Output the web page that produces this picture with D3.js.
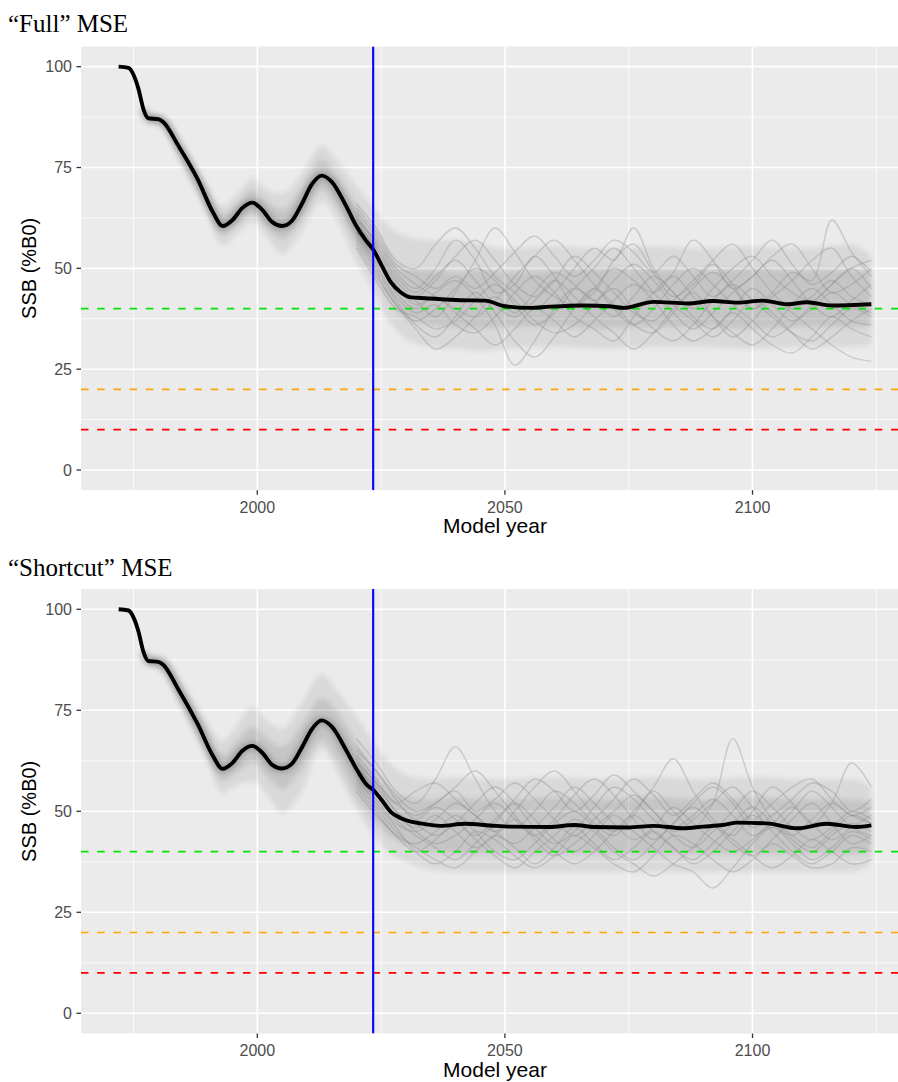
<!DOCTYPE html>
<html>
<head>
<meta charset="utf-8">
<script src="https://cdn.jsdelivr.net/npm/d3@7"></script>
<style>
  body { margin: 0; background: #fff; }
  svg { display: block; }
</style>
</head>
<body>
<svg id="chart"></svg>
<script>
// ---- data ----
var xTicks = [2000, 2050, 2100]
var xMinor = [1975, 2025, 2075, 2125]
var yTicks = [0, 25, 50, 75, 100]
var yMinor = [12.5, 37.5, 62.5, 87.5]
var refValues = [40, 20, 10]
var currentYear = 2023.4

// median (black) lines
var fullMedYears = [1972, 1974, 1975, 1976, 1977, 1978, 1980, 1981, 1984, 1988, 1991, 1993, 1995, 1997, 1999, 2001, 2003, 2005, 2007, 2009, 2011, 2013, 2015, 2018, 2020, 2022, 2023.5, 2025, 2027, 2029, 2031, 2034, 2041, 2046, 2050, 2055, 2059, 2066, 2071, 2074, 2080, 2087, 2092, 2097, 2102, 2107, 2111, 2116, 2124]
var fullMedValues = [100, 99.7, 98, 94.5, 89.5, 87.2, 87, 86.3, 80.5, 72, 64, 60.5, 62, 65, 66.3, 64.5, 61.5, 60.5, 61.8, 66, 70.8, 73, 71.5, 65.3, 60.5, 56.8, 54.5, 51, 46.5, 44, 42.8, 42.6, 42.1, 42, 40.6, 40.2, 40.5, 40.8, 40.6, 40.2, 41.7, 41.3, 41.9, 41.5, 42, 41.1, 41.6, 40.8, 41.1]

var shortMedYears = [1972, 1974, 1975, 1976, 1977, 1978, 1980, 1981, 1984, 1988, 1991, 1993, 1995, 1997, 1999, 2001, 2003, 2005, 2007, 2009, 2011, 2013, 2015, 2018, 2020, 2022, 2023.5, 2025, 2027, 2029, 2033, 2037, 2042, 2047, 2051, 2059, 2064, 2068, 2075, 2080, 2086, 2090, 2094, 2097, 2103, 2109, 2115, 2121, 2124]
var shortMedValues = [100, 99.7, 98, 94.5, 89.5, 87.2, 87, 86.3, 80.3, 71.5, 63.8, 60.5, 62, 65, 66.2, 64.5, 61.5, 60.6, 61.8, 65.8, 70.3, 72.5, 71, 65, 60.5, 56.7, 55.2, 53, 49.8, 48.3, 47, 46.4, 46.9, 46.5, 46.2, 46.1, 46.6, 46.1, 46, 46.4, 45.8, 46.2, 46.6, 47.2, 47, 45.8, 46.9, 46.1, 46.5]

// spread of the simulation runs (outer and dense inner envelopes)
var bandYears = [1978, 1981, 1985, 1989, 1993, 1996, 1999, 2002, 2005, 2009, 2013, 2016, 2020, 2023, 2026, 2030, 2035, 2040, 2045, 2050, 2060, 2070, 2080, 2090, 2100, 2110, 2120, 2124]

var fullOuterHi = [88.5, 87.8, 80.3, 72, 65.5, 68.5, 72.3, 69.5, 68.6, 73.5, 80.5, 77, 70.5, 66, 61, 58, 57, 57, 56, 55, 55.5, 55, 55.5, 55, 55.5, 55, 56, 53]
var fullInnerHi = [88, 87.2, 79.4, 70.9, 63.2, 66, 69.5, 66.5, 64.5, 70, 77, 73.2, 65.5, 60, 54, 50, 49.5, 49, 49.5, 49, 49.5, 50, 49.5, 49.5, 50, 49.5, 49.5, 49]
var fullInnerLo = [86.4, 85.4, 76.5, 67.8, 58.2, 61, 63.5, 60, 57.2, 62.5, 69.5, 65.5, 56, 50.5, 43, 37.5, 36, 35.5, 35, 35.5, 35.5, 35, 35.5, 35.5, 35, 35.5, 35.5, 36]
var fullOuterLo = [85.8, 84.8, 75, 66, 55.5, 58.5, 61.5, 57.5, 53.5, 59, 66.5, 62, 51.5, 45.5, 38, 32.5, 30.5, 30, 29.5, 30, 30.5, 30, 30.5, 30.5, 30, 30.5, 30.5, 31]

var shortOuterHi = [88.8, 88.3, 81.5, 74, 67.5, 71.5, 76, 72.5, 70.5, 77, 84, 80, 73.5, 68, 63, 59, 58, 58.5, 58, 58, 58.5, 58, 58.5, 58, 58.5, 58, 58, 56]
var shortInnerHi = [88.2, 87.5, 79.6, 71.4, 64, 67.5, 71, 68, 66, 71.5, 78, 75, 67, 61.5, 56.5, 53.5, 53, 53.5, 53, 53, 53.5, 53, 53.5, 53, 53.5, 53, 53, 52.5]
var shortInnerLo = [86.3, 85.2, 76.3, 67.2, 57.5, 59.8, 62, 58.5, 55.5, 60.5, 67.5, 63, 53.5, 48.5, 44.5, 41.5, 40, 39.5, 39.5, 39.5, 39.5, 39.5, 39.5, 39.5, 39.5, 39.5, 39.5, 40]
var shortOuterLo = [85.8, 84.5, 74.5, 65, 54.5, 56.5, 57.5, 54, 49.5, 55, 65.5, 60, 50.5, 45, 40.5, 37.5, 35.5, 35, 35, 35, 35, 35, 35, 35, 35, 35, 35, 37]

// individual projection runs that stand out of the cloud
var traceYears = [2020, 2024, 2028, 2032, 2036, 2040, 2044, 2048, 2052, 2056, 2060, 2064, 2068, 2072, 2076, 2080, 2084, 2088, 2092, 2096, 2100, 2104, 2108, 2112, 2116, 2120, 2124]

var fullTraces = [
  [62, 57, 49, 45, 50, 57, 52, 44, 46, 53, 48, 41, 44, 52, 56, 49, 43, 46, 51, 46, 40, 44, 49, 47, 62, 54, 48],
  [58, 50, 42, 36, 33, 38, 44, 39, 32, 28, 33, 40, 45, 41, 36, 34, 39, 44, 38, 33, 37, 42, 39, 35, 31, 28, 27],
  [60, 53, 44, 40, 44, 47, 43, 36, 26, 32, 40, 45, 42, 38, 43, 48, 44, 38, 35, 40, 45, 41, 37, 40, 44, 41, 39],
  [66, 60, 52, 50, 56, 60, 55, 48, 44, 40, 44, 50, 55, 52, 60, 50, 44, 40, 45, 50, 53, 48, 44, 42, 46, 50, 45],
  [55, 47, 40, 38, 35, 37, 42, 46, 42, 37, 34, 36, 41, 45, 40, 35, 32, 36, 42, 46, 42, 38, 34, 32, 36, 40, 38],
  [61, 55, 47, 42, 38, 44, 52, 60, 54, 47, 43, 41, 45, 50, 47, 44, 49, 57, 52, 45, 48, 53, 56, 50, 44, 46, 50],
  [63, 56, 48, 44, 48, 52, 47, 41, 38, 42, 47, 53, 49, 44, 39, 37, 42, 47, 52, 56, 50, 44, 40, 43, 47, 43, 41],
  [59, 51, 43, 39, 41, 36, 34, 38, 44, 48, 44, 38, 35, 32, 38, 44, 48, 43, 38, 34, 31, 35, 41, 45, 41, 37, 36],
  [57, 49, 41, 37, 40, 45, 50, 47, 41, 36, 39, 45, 50, 55, 50, 44, 39, 35, 39, 44, 48, 52, 47, 41, 38, 42, 46],
  [64, 58, 50, 46, 43, 40, 38, 42, 48, 53, 57, 52, 46, 40, 36, 40, 46, 50, 46, 41, 37, 33, 36, 41, 46, 50, 52],
  [60, 52, 45, 43, 47, 53, 57, 52, 46, 43, 47, 43, 38, 34, 30, 34, 40, 45, 49, 45, 40, 43, 47, 52, 55, 48, 43],
  [56, 48, 41, 35, 30, 33, 38, 43, 39, 44, 49, 46, 42, 47, 51, 47, 41, 37, 33, 37, 42, 39, 34, 30, 33, 37, 40],
  [65, 59, 51, 48, 45, 48, 45, 49, 54, 58, 53, 48, 52, 57, 54, 49, 53, 48, 43, 47, 52, 57, 51, 46, 49, 53, 49],
  [59, 54, 46, 41, 43, 39, 35, 31, 35, 40, 37, 33, 37, 42, 46, 42, 36, 32, 35, 39, 35, 31, 29, 33, 38, 35, 33]
]

var shortTraces = [
  [68, 62, 55, 52, 58, 66, 58, 50, 46, 50, 55, 52, 47, 44, 49, 55, 50, 46, 52, 68, 56, 48, 44, 48, 52, 49, 47],
  [60, 54, 48, 44, 41, 38, 42, 47, 52, 48, 43, 40, 44, 49, 45, 41, 37, 35, 31, 36, 42, 46, 42, 38, 41, 45, 43],
  [64, 58, 52, 55, 57, 53, 49, 45, 50, 56, 60, 55, 49, 45, 50, 56, 63, 55, 48, 44, 50, 56, 52, 47, 52, 62, 56],
  [56, 50, 44, 42, 45, 49, 45, 40, 38, 42, 47, 50, 46, 41, 38, 42, 47, 51, 47, 42, 39, 43, 48, 52, 47, 42, 44],
  [62, 57, 50, 47, 44, 47, 52, 56, 52, 46, 42, 45, 51, 56, 53, 48, 44, 41, 45, 50, 55, 51, 46, 43, 46, 50, 48],
  [58, 52, 46, 40, 37, 40, 45, 43, 39, 36, 39, 44, 41, 37, 35, 39, 44, 42, 38, 35, 38, 42, 39, 36, 37, 41, 40],
  [66, 60, 54, 50, 52, 55, 50, 53, 57, 53, 48, 44, 48, 53, 58, 54, 49, 53, 57, 53, 48, 52, 56, 58, 53, 49, 51],
  [61, 55, 49, 46, 49, 45, 41, 44, 48, 44, 40, 37, 40, 45, 49, 45, 41, 38, 42, 47, 51, 47, 43, 40, 44, 47, 45],
  [63, 57, 52, 49, 52, 56, 60, 55, 49, 44, 48, 54, 58, 54, 48, 43, 47, 52, 56, 52, 46, 49, 53, 57, 55, 50, 53],
  [57, 51, 45, 41, 38, 36, 40, 44, 41, 37, 41, 46, 42, 38, 41, 45, 41, 37, 40, 45, 49, 45, 40, 37, 40, 44, 42],
  [65, 60, 53, 48, 51, 48, 44, 48, 53, 58, 55, 50, 54, 59, 55, 50, 46, 49, 53, 49, 44, 47, 51, 47, 43, 46, 49],
  [59, 53, 47, 45, 48, 52, 49, 45, 42, 46, 51, 56, 52, 47, 43, 46, 51, 47, 43, 40, 43, 47, 44, 41, 45, 49, 47],
  [61, 56, 50, 45, 42, 44, 48, 52, 48, 43, 39, 42, 46, 50, 54, 50, 45, 48, 52, 56, 51, 46, 50, 55, 51, 46, 44],
  [55, 49, 44, 40, 43, 47, 43, 39, 36, 40, 44, 48, 45, 40, 37, 34, 37, 41, 46, 43, 39, 36, 39, 43, 40, 37, 38]
]

var panels = [
  { title: "\u201cFull\u201d MSE", titleY: 31.5, top: 46.5, bottom: 490.2,
    medYears: fullMedYears, medValues: fullMedValues, traces: fullTraces,
    outerHi: fullOuterHi, innerHi: fullInnerHi, innerLo: fullInnerLo, outerLo: fullOuterLo },
  { title: "\u201cShortcut\u201d MSE", titleY: 575.5, top: 589.1, bottom: 1033.5,
    medYears: shortMedYears, medValues: shortMedValues, traces: shortTraces,
    outerHi: shortOuterHi, innerHi: shortInnerHi, innerLo: shortInnerLo, outerLo: shortOuterLo }
]

// ---- styles ----
var refColors = ["#00e600", "#ffa500", "#ff0000"]
var width = 898, height = 1082
var panelLeft = 81, panelRight = 909

let svg = d3.select("#chart")
  .attr("width", width)
  .attr("height", height)
  .style("font-family", "'Liberation Sans', Arial, sans-serif")

svg.append("rect").attr("width", width).attr("height", height).attr("fill", "#fff")

let defs = svg.append("defs")
defs.append("filter")
  .attr("id", "soft")
  .attr("x", "-5%").attr("y", "-30%").attr("width", "110%").attr("height", "160%")
  .append("feGaussianBlur")
  .attr("stdDeviation", 2.4)

var x = d3.scaleLinear()
  .domain([1964.4, 2131.6])
  .range([panelLeft, panelRight])

panels.forEach(function(p, i) {
  var y = d3.scaleLinear()
    .domain([-5, 105])
    .range([p.bottom, p.top])

  defs.append("clipPath")
    .attr("id", "clip" + i)
    .append("rect")
    .attr("x", panelLeft).attr("y", p.top)
    .attr("width", panelRight - panelLeft).attr("height", p.bottom - p.top)

  // title
  svg.append("text")
    .attr("x", 8)
    .attr("y", p.titleY)
    .style("font-family", "'Liberation Serif', 'Times New Roman', serif")
    .style("font-size", "25px")
    .attr("fill", "#000")
    .text(p.title)

  // background + grid
  svg.append("rect")
    .attr("x", panelLeft).attr("y", p.top)
    .attr("width", panelRight - panelLeft).attr("height", p.bottom - p.top)
    .attr("fill", "#ebebeb")

  let grid = svg.append("g").attr("clip-path", "url(#clip" + i + ")")
  grid.selectAll(".ymin").data(yMinor).join("line")
    .attr("x1", panelLeft).attr("x2", panelRight)
    .attr("y1", d => y(d)).attr("y2", d => y(d))
    .attr("stroke", "#fff").attr("stroke-width", 0.8)
  grid.selectAll(".xmin").data(xMinor).join("line")
    .attr("y1", p.top).attr("y2", p.bottom)
    .attr("x1", d => x(d)).attr("x2", d => x(d))
    .attr("stroke", "#fff").attr("stroke-width", 0.8)
  grid.selectAll(".ymaj").data(yTicks).join("line")
    .attr("x1", panelLeft).attr("x2", panelRight)
    .attr("y1", d => y(d)).attr("y2", d => y(d))
    .attr("stroke", "#fff").attr("stroke-width", 1.6)
  grid.selectAll(".xmaj").data(xTicks).join("line")
    .attr("y1", p.top).attr("y2", p.bottom)
    .attr("x1", d => x(d)).attr("x2", d => x(d))
    .attr("stroke", "#fff").attr("stroke-width", 1.6)

  let plot = svg.append("g").attr("clip-path", "url(#clip" + i + ")")

  // cloud of runs
  var bandRows = bandYears.map((yr, k) => ({ yr: yr, oh: p.outerHi[k], ih: p.innerHi[k], il: p.innerLo[k], ol: p.outerLo[k] }))
  var outerArea = d3.area().curve(d3.curveMonotoneX)
    .x(d => x(d.yr)).y0(d => y(d.ol)).y1(d => y(d.oh))
  var innerArea = d3.area().curve(d3.curveMonotoneX)
    .x(d => x(d.yr)).y0(d => y(d.il)).y1(d => y(d.ih))

  plot.append("path").datum(bandRows)
    .attr("d", outerArea)
    .attr("fill", "#000").attr("fill-opacity", 0.075)
    .attr("filter", "url(#soft)")
  plot.append("path").datum(bandRows)
    .attr("d", innerArea)
    .attr("fill", "#000").attr("fill-opacity", 0.09)
    .attr("filter", "url(#soft)")

  var traceLine = d3.line().curve(d3.curveCatmullRom.alpha(0.5))
    .x(d => x(d[0])).y(d => y(d[1]))
  plot.selectAll(".trace").data(p.traces).join("path")
    .attr("d", t => traceLine(traceYears.map((yr, k) => [yr, t[k]])))
    .attr("fill", "none")
    .attr("stroke", "#8c8c8c")
    .attr("stroke-opacity", 0.35)
    .attr("stroke-width", 1.4)

  var medRows = p.medYears.map((yr, k) => [yr, p.medValues[k]])
  var medLine = d3.line().curve(d3.curveMonotoneX)
    .x(d => x(d[0])).y(d => y(d[1]))

  // dense core of the historical runs hugging the median
  plot.append("path")
    .datum(medRows.filter(d => d[0] >= 1977 && d[0] <= 2024))
    .attr("d", medLine)
    .attr("fill", "none")
    .attr("stroke", "#6e6e6e")
    .attr("stroke-opacity", 0.4)
    .attr("stroke-width", 9)
    .attr("filter", "url(#soft)")

  // reference levels
  plot.selectAll(".ref").data(refValues).join("line")
    .attr("x1", panelLeft).attr("x2", panelRight)
    .attr("y1", d => y(d)).attr("y2", d => y(d))
    .attr("stroke", (d, k) => refColors[k])
    .attr("stroke-width", 1.7)
    .attr("stroke-dasharray", "7.5,8.7")

  // median
  plot.append("path")
    .datum(medRows)
    .attr("d", medLine)
    .attr("fill", "none")
    .attr("stroke", "#000")
    .attr("stroke-width", 3.9)
    .attr("stroke-linejoin", "round")

  // current year
  plot.append("line")
    .attr("x1", x(currentYear)).attr("x2", x(currentYear))
    .attr("y1", p.top).attr("y2", p.bottom)
    .attr("stroke", "#0000ff")
    .attr("stroke-width", 2.1)

  // axes
  let yAxis = svg.append("g")
  yAxis.selectAll("line").data(yTicks).join("line")
    .attr("x1", panelLeft - 4.5).attr("x2", panelLeft)
    .attr("y1", d => y(d)).attr("y2", d => y(d))
    .attr("stroke", "#333").attr("stroke-width", 1.3)
  yAxis.selectAll("text").data(yTicks).join("text")
    .attr("x", panelLeft - 9)
    .attr("y", d => y(d))
    .attr("dy", "0.35em")
    .attr("text-anchor", "end")
    .attr("fill", "#4d4d4d")
    .style("font-size", "16px")
    .text(d => d)

  let xAxis = svg.append("g")
  xAxis.selectAll("line").data(xTicks).join("line")
    .attr("x1", d => x(d)).attr("x2", d => x(d))
    .attr("y1", p.bottom).attr("y2", p.bottom + 4.5)
    .attr("stroke", "#333").attr("stroke-width", 1.3)
  xAxis.selectAll("text").data(xTicks).join("text")
    .attr("x", d => x(d))
    .attr("y", p.bottom + 22.5)
    .attr("text-anchor", "middle")
    .attr("fill", "#4d4d4d")
    .style("font-size", "16px")
    .text(d => d)

  svg.append("text")
    .attr("x", (panelLeft + panelRight) / 2)
    .attr("y", p.bottom + 43)
    .attr("text-anchor", "middle")
    .attr("fill", "#000")
    .style("font-size", "21px")
    .text("Model year")

  svg.append("text")
    .attr("transform", "translate(35.5," + ((p.top + p.bottom) / 2) + ") rotate(-90)")
    .attr("text-anchor", "middle")
    .attr("fill", "#000")
    .style("font-size", "20px")
    .text("SSB (%B0)")
})
</script>
</body>
</html>
